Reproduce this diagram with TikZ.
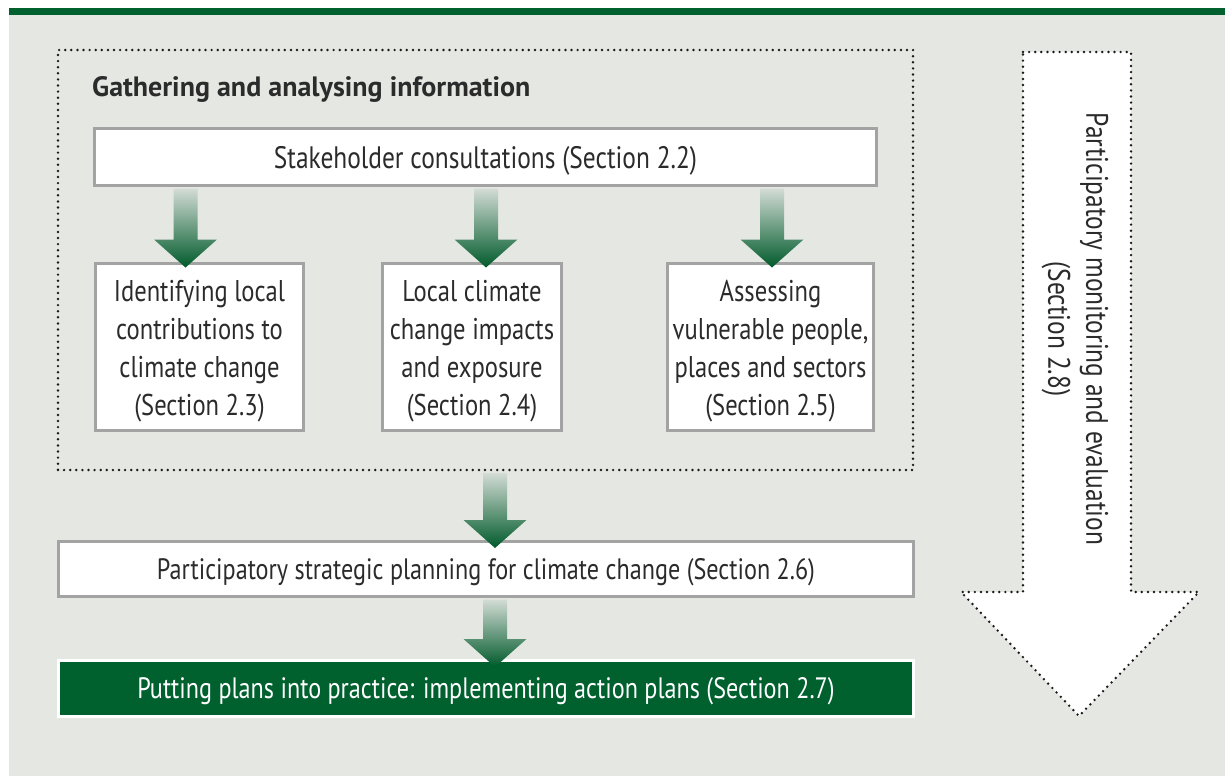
\documentclass[tikz,border=0pt]{standalone}
\usepackage{fontspec}
\setmainfont[FakeStretch=0.82]{PT Sans}
\newfontfamily\titlefont{PT Sans}
\usetikzlibrary{calc}
\definecolor{bggray}{HTML}{E5E7E3}
\definecolor{dgreen}{HTML}{00612F}
\definecolor{boxline}{HTML}{A3A3A3}
\definecolor{txt}{HTML}{2B2B2B}
\definecolor{arrtop}{HTML}{D3DCD5}
\definecolor{arrbot}{HTML}{005A2B}
\tikzset{
  stepbox/.style={draw=boxline, line width=3pt, fill=white, inner sep=0pt},
  boxtext/.style={text=txt, align=center, inner sep=0pt, font=\fontsize{30}{38}\selectfont},
  dotline/.style={draw=black!90, line width=2.7pt, line cap=round, dash pattern=on 0pt off 6.1pt},
}
\newcommand\blockarrow[2]{%
  \shade[top color=arrtop, bottom color=arrbot]
    let \p1=#1, \p2=#2 in
    (\x1-12pt,\y1) -- (\x1+12pt,\y1) -- (\x1+12pt,\y2+28pt) -- (\x1+31.5pt,\y2+28pt)
    -- (\x1,\y2) -- (\x1-31.5pt,\y2+28pt) -- (\x1-12pt,\y2+28pt) -- cycle;}
\begin{document}
\begin{tikzpicture}[x=1pt,y=-1pt]
\useasboundingbox (0,0) rectangle (1225,776);
\fill[white] (0,0) rectangle (1225,776);
\fill[bggray] (9,8) rectangle (1225,776);
\fill[dgreen] (9,8) rectangle (1225,15);

% outer dotted group
\node[dotline, minimum width=855pt, minimum height=420pt, inner sep=0pt] (gather) at (485.5,260) {};
\node[anchor=west, text=txt, inner sep=0pt, font=\fontsize{28}{30}\titlefont\bfseries] (title) at (92,89.5)
  {Gathering and analysing information};

\node[stepbox, minimum width=782pt, minimum height=57pt] (stake) at (485.5,157) {};
\node[boxtext, font=\fontsize{31}{38}\selectfont] (staket) at ([yshift=-3.5pt]stake.center)
  {Stakeholder consultations (Section 2.2)};
\node[stepbox, minimum width=208pt, minimum height=167pt] (b1) at (199.5,347) {};
\node[boxtext] (b1t) at ([yshift=-4pt]b1.center)
  {Identifying local\\contributions to\\climate change\\(Section 2.3)};
\node[stepbox, minimum width=179pt, minimum height=167pt] (b2) at (472,347) {};
\node[boxtext] (b2t) at ([yshift=-4pt]b2.center)
  {Local climate\\change impacts\\and exposure\\(Section 2.4)};
\node[stepbox, minimum width=206pt, minimum height=167pt] (b3) at (770.5,347) {};
\node[boxtext] (b3t) at ([yshift=-4pt]b3.center)
  {Assessing\\vulnerable people,\\places and sectors\\(Section 2.5)};
\node[stepbox, minimum width=855pt, minimum height=55pt] (plan) at (486,569) {};
\node[boxtext, font=\fontsize{29.5}{38}\selectfont] (plant) at ([yshift=-3.5pt]plan.center)
  {Participatory strategic planning for climate change (Section 2.6)};
\node[stepbox, draw=white, fill=dgreen, minimum width=855pt, minimum height=56pt] (impl) at (486,688.5) {};
\node[boxtext, text=white, font=\fontsize{29.5}{38}\selectfont] (implt) at ([yshift=-2.5pt]impl.center)
  {Putting plans into practice: implementing action plans (Section 2.7)};

% block arrows
\coordinate (c1) at (185.5,0);
\coordinate (c2) at (486,0);
\coordinate (c3) at (772,0);
\coordinate (c4) at (495,0);
\blockarrow{($(stake.south -| c1)+(0,1.5)$)}{($(b1.north -| c1)+(0,5.5)$)}
\blockarrow{($(stake.south -| c2)+(0,1.5)$)}{($(b2.north -| c2)+(0,5.5)$)}
\blockarrow{($(stake.south -| c3)+(0,1.5)$)}{($(b3.north -| c3)+(0,5.5)$)}
\blockarrow{($(gather.south -| c4)+(0,1.5)$)}{($(plan.north -| c4)+(0,8)$)}
\blockarrow{($(plan.south -| c4)+(0,1.5)$)}{($(impl.north -| c4)+(0,8)$)}

% monitoring arrow
\filldraw[fill=white, dotline] (1023,52) -- (1131,52) -- (1131,592) -- (1199,592) -- (1079,716)
  -- (961,592) -- (1023,592) -- cycle;
\node[rotate=-90, align=center, text=txt, font=\fontsize{31}{38}\selectfont] (mon) at (1075,329)
  {Participatory monitoring and evaluation\\(Section 2.8)};
\end{tikzpicture}
\end{document}
